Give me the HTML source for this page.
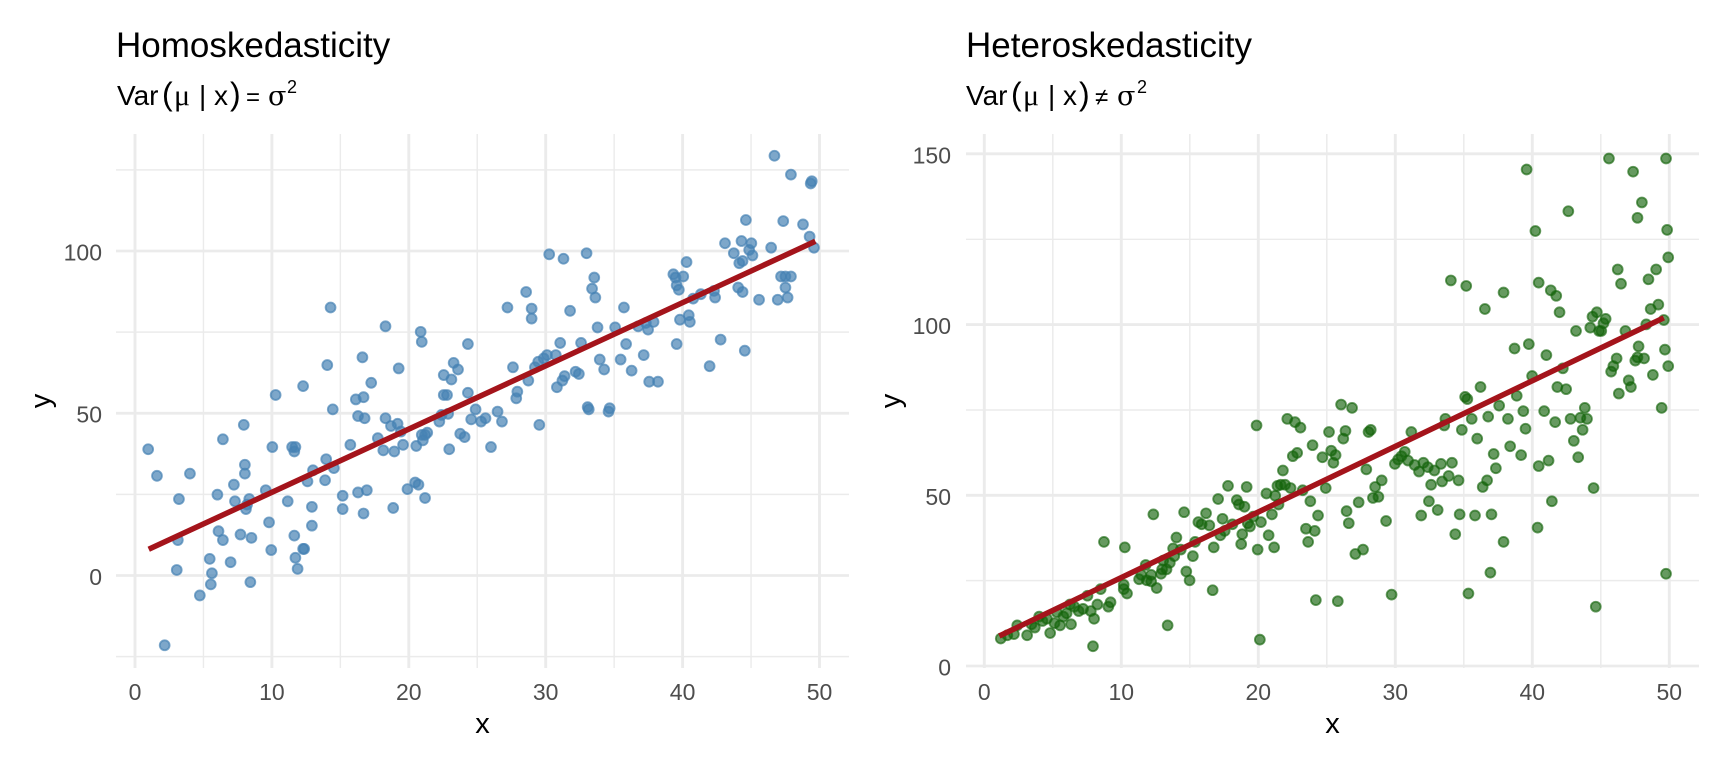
<!DOCTYPE html>
<html><head><meta charset="utf-8"><style>
html,body{margin:0;padding:0;background:#fff}
svg{display:block}
text{font-family:"Liberation Sans",Arial,sans-serif}
.tk{font-size:23px;fill:#4D4D4D}
.ttl{font-size:35px;fill:#000}
.at{font-size:29px;fill:#000}
.sub{font-size:28px;fill:#000}
.ser{font-family:"Liberation Serif","DejaVu Serif",serif}
.ser2{font-family:"DejaVu Serif","Liberation Serif",serif}
.gM{stroke:#EBEBEB;stroke-width:2.85}
.gm{stroke:#EBEBEB;stroke-width:1.45}
.L circle{fill:rgb(70,130,180);fill-opacity:.7;stroke:rgb(70,130,180);stroke-opacity:.7;stroke-width:1.65}
.R circle{fill:rgb(20,100,10);fill-opacity:.65;stroke:rgb(20,100,10);stroke-opacity:.65;stroke-width:1.65}
</style></head><body>
<svg width="1728" height="768" viewBox="0 0 1728 768" xmlns="http://www.w3.org/2000/svg">
<rect width="1728" height="768" fill="#fff"/>

<!-- LEFT PANEL GRID -->
<g>
<line class="gm" x1="116" x2="849" y1="656.6" y2="656.6"/>
<line class="gm" x1="116" x2="849" y1="494.4" y2="494.4"/>
<line class="gm" x1="116" x2="849" y1="332.1" y2="332.1"/>
<line class="gm" x1="116" x2="849" y1="169.9" y2="169.9"/>
<line class="gm" x1="203.45" x2="203.45" y1="134" y2="668"/>
<line class="gm" x1="340.35" x2="340.35" y1="134" y2="668"/>
<line class="gm" x1="477.25" x2="477.25" y1="134" y2="668"/>
<line class="gm" x1="614.15" x2="614.15" y1="134" y2="668"/>
<line class="gm" x1="751.05" x2="751.05" y1="134" y2="668"/>
<line class="gM" x1="116" x2="849" y1="575.5" y2="575.5"/>
<line class="gM" x1="116" x2="849" y1="413.25" y2="413.25"/>
<line class="gM" x1="116" x2="849" y1="251" y2="251"/>
<line class="gM" x1="135" x2="135" y1="134" y2="668"/>
<line class="gM" x1="271.9" x2="271.9" y1="134" y2="668"/>
<line class="gM" x1="408.8" x2="408.8" y1="134" y2="668"/>
<line class="gM" x1="545.7" x2="545.7" y1="134" y2="668"/>
<line class="gM" x1="682.6" x2="682.6" y1="134" y2="668"/>
<line class="gM" x1="819.5" x2="819.5" y1="134" y2="668"/>
</g>

<!-- RIGHT PANEL GRID -->
<g>
<line class="gm" x1="966" x2="1699" y1="580.6" y2="580.6"/>
<line class="gm" x1="966" x2="1699" y1="410" y2="410"/>
<line class="gm" x1="966" x2="1699" y1="239.3" y2="239.3"/>
<line class="gm" x1="1052.8" x2="1052.8" y1="134" y2="668"/>
<line class="gm" x1="1189.8" x2="1189.8" y1="134" y2="668"/>
<line class="gm" x1="1326.8" x2="1326.8" y1="134" y2="668"/>
<line class="gm" x1="1463.8" x2="1463.8" y1="134" y2="668"/>
<line class="gm" x1="1600.8" x2="1600.8" y1="134" y2="668"/>
<line class="gM" x1="966" x2="1699" y1="666" y2="666"/>
<line class="gM" x1="966" x2="1699" y1="495.3" y2="495.3"/>
<line class="gM" x1="966" x2="1699" y1="324.6" y2="324.6"/>
<line class="gM" x1="966" x2="1699" y1="153.8" y2="153.8"/>
<line class="gM" x1="984.3" x2="984.3" y1="134" y2="668"/>
<line class="gM" x1="1121.3" x2="1121.3" y1="134" y2="668"/>
<line class="gM" x1="1258.3" x2="1258.3" y1="134" y2="668"/>
<line class="gM" x1="1395.3" x2="1395.3" y1="134" y2="668"/>
<line class="gM" x1="1532.3" x2="1532.3" y1="134" y2="668"/>
<line class="gM" x1="1669.3" x2="1669.3" y1="134" y2="668"/>
</g>

<!-- LEFT POINTS -->
<g class="L" transform="translate(135 575.5) scale(1.0987 1.1075) translate(-122 -522)">
<circle r="4.5" cx="134" cy="408"/><circle r="4.5" cx="142" cy="432"/><circle r="4.5" cx="149" cy="585"/><circle r="4.5" cx="162" cy="453"/><circle r="4.5" cx="161" cy="490"/><circle r="4.5" cx="160" cy="517"/><circle r="4.5" cx="172" cy="430"/><circle r="4.5" cx="181" cy="540"/><circle r="4.5" cx="190" cy="507"/><circle r="4.5" cx="192" cy="520"/><circle r="4.5" cx="191" cy="530"/><circle r="4.5" cx="197" cy="449"/><circle r="4.5" cx="198" cy="482"/><circle r="4.5" cx="202" cy="490"/><circle r="4.5" cx="202" cy="399"/><circle r="4.5" cx="209" cy="510"/><circle r="4.5" cx="212" cy="440"/><circle r="4.5" cx="213" cy="455"/><circle r="4.5" cx="218" cy="485"/><circle r="4.5" cx="221" cy="386"/><circle r="4.5" cx="222" cy="422"/><circle r="4.5" cx="222" cy="430"/><circle r="4.5" cx="223" cy="462"/><circle r="4.5" cx="224" cy="458"/><circle r="4.5" cx="226" cy="453"/><circle r="4.5" cx="228" cy="488"/><circle r="4.5" cx="227" cy="528"/><circle r="4.5" cx="241" cy="445"/><circle r="4.5" cx="244" cy="474"/><circle r="4.5" cx="247" cy="406"/><circle r="4.5" cx="246" cy="499"/><circle r="4.5" cx="250" cy="359"/><circle r="4.5" cx="261" cy="455"/><circle r="4.5" cx="265" cy="406"/><circle r="4.5" cx="267" cy="410"/><circle r="4.5" cx="268" cy="406"/><circle r="4.5" cx="267" cy="486"/><circle r="4.5" cx="268" cy="506"/><circle r="4.5" cx="270" cy="516"/><circle r="4.5" cx="275" cy="498"/><circle r="4.5" cx="276" cy="498"/><circle r="4.5" cx="275" cy="351"/><circle r="4.5" cx="279" cy="437"/><circle r="4.5" cx="283" cy="460"/><circle r="4.5" cx="284" cy="427"/><circle r="4.5" cx="283" cy="477"/><circle r="4.5" cx="296" cy="417"/><circle r="4.5" cx="295" cy="436"/><circle r="4.5" cx="297" cy="332"/><circle r="4.5" cx="300" cy="280"/><circle r="4.5" cx="302" cy="372"/><circle r="4.5" cx="303" cy="425"/><circle r="4.5" cx="311" cy="450"/><circle r="4.5" cx="311" cy="462"/><circle r="4.5" cx="318" cy="404"/><circle r="4.5" cx="323" cy="363"/><circle r="4.5" cx="325" cy="378"/><circle r="4.5" cx="325" cy="447"/><circle r="4.5" cx="329" cy="325"/><circle r="4.5" cx="330" cy="361"/><circle r="4.5" cx="331" cy="380"/><circle r="4.5" cx="330" cy="466"/><circle r="4.5" cx="333" cy="445"/><circle r="4.5" cx="337" cy="348"/><circle r="4.5" cx="343" cy="398"/><circle r="4.5" cx="348" cy="409"/><circle r="4.5" cx="350" cy="297"/><circle r="4.5" cx="350" cy="380"/><circle r="4.5" cx="355" cy="387"/><circle r="4.5" cx="358" cy="410"/><circle r="4.5" cx="357" cy="461"/><circle r="4.5" cx="362" cy="335"/><circle r="4.5" cx="361" cy="385"/><circle r="4.5" cx="364" cy="392"/><circle r="4.5" cx="366" cy="404"/><circle r="4.5" cx="370" cy="444"/><circle r="4.5" cx="377" cy="438"/><circle r="4.5" cx="378" cy="405"/><circle r="4.5" cx="380" cy="440"/><circle r="4.5" cx="382" cy="302"/><circle r="4.5" cx="383" cy="311"/><circle r="4.5" cx="383" cy="395"/><circle r="4.5" cx="384" cy="400"/><circle r="4.5" cx="386" cy="395"/><circle r="4.5" cx="388" cy="393"/><circle r="4.5" cx="386" cy="452"/><circle r="4.5" cx="399" cy="383"/><circle r="4.5" cx="401" cy="377"/><circle r="4.5" cx="403" cy="359"/><circle r="4.5" cx="403" cy="341"/><circle r="4.5" cx="406" cy="359"/><circle r="4.5" cx="408" cy="408"/><circle r="4.5" cx="407" cy="376"/><circle r="4.5" cx="410" cy="345"/><circle r="4.5" cx="412" cy="330"/><circle r="4.5" cx="416" cy="336"/><circle r="4.5" cx="418" cy="394"/><circle r="4.5" cx="422" cy="397"/><circle r="4.5" cx="425" cy="313"/><circle r="4.5" cx="425" cy="357"/><circle r="4.5" cx="428" cy="381"/><circle r="4.5" cx="432" cy="372"/><circle r="4.5" cx="437" cy="383"/><circle r="4.5" cx="441" cy="380"/><circle r="4.5" cx="446" cy="406"/><circle r="4.5" cx="452" cy="374"/><circle r="4.5" cx="456" cy="383"/><circle r="4.5" cx="461" cy="280"/><circle r="4.5" cx="466" cy="334"/><circle r="4.5" cx="469" cy="362"/><circle r="4.5" cx="470" cy="356"/><circle r="4.5" cx="478" cy="266"/><circle r="4.5" cx="480" cy="346"/><circle r="4.5" cx="483" cy="281"/><circle r="4.5" cx="483" cy="290"/><circle r="4.5" cx="486" cy="334"/><circle r="4.5" cx="489" cy="329"/><circle r="4.5" cx="490" cy="386"/><circle r="4.5" cx="494" cy="326"/><circle r="4.5" cx="497" cy="323"/><circle r="4.5" cx="499" cy="232"/><circle r="4.5" cx="505" cy="323"/><circle r="4.5" cx="506" cy="352"/><circle r="4.5" cx="509" cy="312"/><circle r="4.5" cx="511" cy="346"/><circle r="4.5" cx="512" cy="236"/><circle r="4.5" cx="513" cy="342"/><circle r="4.5" cx="518" cy="283"/><circle r="4.5" cx="523" cy="338"/><circle r="4.5" cx="526" cy="340"/><circle r="4.5" cx="528" cy="312"/><circle r="4.5" cx="533" cy="231"/><circle r="4.5" cx="534" cy="370"/><circle r="4.5" cx="535" cy="372"/><circle r="4.5" cx="538" cy="263"/><circle r="4.5" cx="540" cy="253"/><circle r="4.5" cx="541" cy="271"/><circle r="4.5" cx="543" cy="298"/><circle r="4.5" cx="545" cy="327"/><circle r="4.5" cx="549" cy="336"/><circle r="4.5" cx="553" cy="374"/><circle r="4.5" cx="554" cy="371"/><circle r="4.5" cx="559" cy="298"/><circle r="4.5" cx="564" cy="327"/><circle r="4.5" cx="567" cy="280"/><circle r="4.5" cx="569" cy="313"/><circle r="4.5" cx="574" cy="337"/><circle r="4.5" cx="580" cy="297"/><circle r="4.5" cx="585" cy="323"/><circle r="4.5" cx="587" cy="294"/><circle r="4.5" cx="589" cy="300"/><circle r="4.5" cx="590" cy="347"/><circle r="4.5" cx="594" cy="293"/><circle r="4.5" cx="598" cy="347"/><circle r="4.5" cx="612" cy="250"/><circle r="4.5" cx="614" cy="253"/><circle r="4.5" cx="615" cy="313"/><circle r="4.5" cx="615" cy="260"/><circle r="4.5" cx="617" cy="264"/><circle r="4.5" cx="618" cy="291"/><circle r="4.5" cx="621" cy="252"/><circle r="4.5" cx="624" cy="239"/><circle r="4.5" cx="626" cy="287"/><circle r="4.5" cx="627" cy="293"/><circle r="4.5" cx="630" cy="272"/><circle r="4.5" cx="637" cy="268"/><circle r="4.5" cx="645" cy="333"/><circle r="4.5" cx="649" cy="265"/><circle r="4.5" cx="650" cy="271"/><circle r="4.5" cx="655" cy="309"/><circle r="4.5" cx="659" cy="222"/><circle r="4.5" cx="667" cy="231"/><circle r="4.5" cx="671" cy="262"/><circle r="4.5" cx="672" cy="240"/><circle r="4.5" cx="674" cy="220"/><circle r="4.5" cx="675" cy="266"/><circle r="4.5" cx="675" cy="238"/><circle r="4.5" cx="677" cy="319"/><circle r="4.5" cx="678" cy="201"/><circle r="4.5" cx="681" cy="228"/><circle r="4.5" cx="683" cy="222"/><circle r="4.5" cx="684" cy="233"/><circle r="4.5" cx="690" cy="273"/><circle r="4.5" cx="701" cy="226"/><circle r="4.5" cx="704" cy="143"/><circle r="4.5" cx="707" cy="273"/><circle r="4.5" cx="710" cy="252"/><circle r="4.5" cx="712" cy="202"/><circle r="4.5" cx="714" cy="252"/><circle r="4.5" cx="714" cy="262"/><circle r="4.5" cx="716" cy="271"/><circle r="4.5" cx="719" cy="160"/><circle r="4.5" cx="719" cy="252"/><circle r="4.5" cx="730" cy="205"/><circle r="4.5" cx="736" cy="216"/><circle r="4.5" cx="737" cy="168"/><circle r="4.5" cx="738" cy="166"/><circle r="4.5" cx="740" cy="226"/>
</g>

<!-- RIGHT POINTS -->
<g class="R" transform="translate(984.3 666) scale(1.0978 1.0985) translate(-891 -605)">
<circle r="4.5" cx="906" cy="580"/><circle r="4.5" cx="912" cy="577"/><circle r="4.5" cx="918" cy="576"/><circle r="4.5" cx="921" cy="568"/><circle r="4.5" cx="930" cy="577"/><circle r="4.5" cx="934" cy="567"/><circle r="4.5" cx="937" cy="570"/><circle r="4.5" cx="941" cy="560"/><circle r="4.5" cx="944" cy="564"/><circle r="4.5" cx="948" cy="562"/><circle r="4.5" cx="951" cy="575"/><circle r="4.5" cx="955" cy="566"/><circle r="4.5" cx="957" cy="556"/><circle r="4.5" cx="960" cy="568"/><circle r="4.5" cx="963" cy="560"/><circle r="4.5" cx="966" cy="557"/><circle r="4.5" cx="969" cy="549"/><circle r="4.5" cx="970" cy="567"/><circle r="4.5" cx="973" cy="551"/><circle r="4.5" cx="990" cy="587"/><circle r="4.5" cx="977" cy="555"/><circle r="4.5" cx="981" cy="553"/><circle r="4.5" cx="985" cy="541"/><circle r="4.5" cx="988" cy="555"/><circle r="4.5" cx="991" cy="562"/><circle r="4.5" cx="994" cy="549"/><circle r="4.5" cx="997" cy="535"/><circle r="4.5" cx="1000" cy="492"/>
<circle r="4.5" cx="1004" cy="551"/><circle r="4.5" cx="1006" cy="547"/><circle r="4.5" cx="1018" cy="535"/><circle r="4.5" cx="1018" cy="531"/><circle r="4.5" cx="1019" cy="497"/><circle r="4.5" cx="1021" cy="539"/><circle r="4.5" cx="1032" cy="526"/><circle r="4.5" cx="1034" cy="522"/><circle r="4.5" cx="1038" cy="513"/><circle r="4.5" cx="1039" cy="527"/><circle r="4.5" cx="1043" cy="528"/><circle r="4.5" cx="1043" cy="522"/><circle r="4.5" cx="1045" cy="467"/><circle r="4.5" cx="1048" cy="534"/><circle r="4.5" cx="1052" cy="521"/><circle r="4.5" cx="1053" cy="517"/><circle r="4.5" cx="1054" cy="509"/><circle r="4.5" cx="1057" cy="517"/><circle r="4.5" cx="1058" cy="568"/><circle r="4.5" cx="1060" cy="511"/><circle r="4.5" cx="1063" cy="498"/><circle r="4.5" cx="1064" cy="505"/><circle r="4.5" cx="1066" cy="488"/><circle r="4.5" cx="1070" cy="499"/><circle r="4.5" cx="1073" cy="465"/><circle r="4.5" cx="1075" cy="519"/><circle r="4.5" cx="1078" cy="527"/><circle r="4.5" cx="1081" cy="505"/><circle r="4.5" cx="1083" cy="492"/><circle r="4.5" cx="1086" cy="474"/><circle r="4.5" cx="1089" cy="476"/><circle r="4.5" cx="1093" cy="466"/><circle r="4.5" cx="1096" cy="477"/><circle r="4.5" cx="1099" cy="536"/><circle r="4.5" cx="1100" cy="497"/>
<circle r="4.5" cx="1104" cy="453"/><circle r="4.5" cx="1106" cy="486"/><circle r="4.5" cx="1108" cy="471"/><circle r="4.5" cx="1110" cy="482"/><circle r="4.5" cx="1113" cy="441"/><circle r="4.5" cx="1117" cy="476"/><circle r="4.5" cx="1121" cy="454"/><circle r="4.5" cx="1123" cy="458"/><circle r="4.5" cx="1125" cy="494"/><circle r="4.5" cx="1126" cy="485"/><circle r="4.5" cx="1128" cy="460"/><circle r="4.5" cx="1130" cy="442"/><circle r="4.5" cx="1131" cy="475"/><circle r="4.5" cx="1133" cy="478"/><circle r="4.5" cx="1136" cy="469"/><circle r="4.5" cx="1139" cy="386"/><circle r="4.5" cx="1140" cy="499"/><circle r="4.5" cx="1143" cy="474"/><circle r="4.5" cx="1142" cy="581"/><circle r="4.5" cx="1148" cy="448"/><circle r="4.5" cx="1150" cy="486"/><circle r="4.5" cx="1153" cy="467"/><circle r="4.5" cx="1155" cy="497"/><circle r="4.5" cx="1156" cy="450"/><circle r="4.5" cx="1158" cy="441"/><circle r="4.5" cx="1159" cy="458"/><circle r="4.5" cx="1161" cy="440"/><circle r="4.5" cx="1163" cy="427"/><circle r="4.5" cx="1165" cy="440"/><circle r="4.5" cx="1167" cy="380"/><circle r="4.5" cx="1170" cy="443"/><circle r="4.5" cx="1172" cy="414"/><circle r="4.5" cx="1174" cy="383"/><circle r="4.5" cx="1176" cy="411"/><circle r="4.5" cx="1179" cy="388"/><circle r="4.5" cx="1181" cy="445"/><circle r="4.5" cx="1184" cy="480"/><circle r="4.5" cx="1186" cy="492"/><circle r="4.5" cx="1188" cy="455"/><circle r="4.5" cx="1190" cy="404"/><circle r="4.5" cx="1192" cy="482"/><circle r="4.5" cx="1193" cy="545"/><circle r="4.5" cx="1195" cy="468"/><circle r="4.5" cx="1199" cy="415"/>
<circle r="4.5" cx="1202" cy="443"/><circle r="4.5" cx="1205" cy="392"/><circle r="4.5" cx="1207" cy="409"/><circle r="4.5" cx="1209" cy="420"/><circle r="4.5" cx="1211" cy="413"/><circle r="4.5" cx="1213" cy="546"/><circle r="4.5" cx="1216" cy="367"/><circle r="4.5" cx="1218" cy="398"/><circle r="4.5" cx="1220" cy="391"/><circle r="4.5" cx="1221" cy="464"/><circle r="4.5" cx="1223" cy="475"/><circle r="4.5" cx="1226" cy="370"/><circle r="4.5" cx="1229" cy="503"/><circle r="4.5" cx="1232" cy="456"/><circle r="4.5" cx="1236" cy="499"/><circle r="4.5" cx="1239" cy="426"/><circle r="4.5" cx="1241" cy="392"/><circle r="4.5" cx="1243" cy="390"/><circle r="4.5" cx="1245" cy="452"/><circle r="4.5" cx="1247" cy="442"/><circle r="4.5" cx="1250" cy="451"/><circle r="4.5" cx="1253" cy="436"/><circle r="4.5" cx="1257" cy="473"/><circle r="4.5" cx="1262" cy="540"/><circle r="4.5" cx="1265" cy="421"/><circle r="4.5" cx="1268" cy="417"/><circle r="4.5" cx="1271" cy="414"/><circle r="4.5" cx="1274" cy="410"/><circle r="4.5" cx="1277" cy="418"/><circle r="4.5" cx="1280" cy="392"/><circle r="4.5" cx="1283" cy="422"/><circle r="4.5" cx="1287" cy="428"/><circle r="4.5" cx="1289" cy="468"/><circle r="4.5" cx="1291" cy="420"/><circle r="4.5" cx="1295" cy="424"/><circle r="4.5" cx="1296" cy="455"/><circle r="4.5" cx="1298" cy="440"/>
<circle r="4.5" cx="1301" cy="427"/><circle r="4.5" cx="1304" cy="463"/><circle r="4.5" cx="1307" cy="421"/><circle r="4.5" cx="1308" cy="437"/><circle r="4.5" cx="1310" cy="386"/><circle r="4.5" cx="1311" cy="380"/><circle r="4.5" cx="1314" cy="432"/><circle r="4.5" cx="1316" cy="254"/><circle r="4.5" cx="1317" cy="420"/><circle r="4.5" cx="1320" cy="485"/><circle r="4.5" cx="1323" cy="436"/><circle r="4.5" cx="1324" cy="467"/><circle r="4.5" cx="1326" cy="390"/><circle r="4.5" cx="1329" cy="360"/><circle r="4.5" cx="1330" cy="259"/><circle r="4.5" cx="1331" cy="362"/><circle r="4.5" cx="1332" cy="539"/><circle r="4.5" cx="1335" cy="380"/><circle r="4.5" cx="1338" cy="468"/><circle r="4.5" cx="1340" cy="398"/><circle r="4.5" cx="1343" cy="351"/><circle r="4.5" cx="1345" cy="442"/><circle r="4.5" cx="1347" cy="280"/><circle r="4.5" cx="1349" cy="436"/><circle r="4.5" cx="1350" cy="378"/><circle r="4.5" cx="1352" cy="520"/><circle r="4.5" cx="1353" cy="467"/><circle r="4.5" cx="1355" cy="412"/><circle r="4.5" cx="1357" cy="425"/><circle r="4.5" cx="1360" cy="368"/><circle r="4.5" cx="1364" cy="265"/><circle r="4.5" cx="1364" cy="492"/><circle r="4.5" cx="1368" cy="380"/><circle r="4.5" cx="1370" cy="405"/><circle r="4.5" cx="1374" cy="316"/><circle r="4.5" cx="1376" cy="359"/><circle r="4.5" cx="1380" cy="413"/><circle r="4.5" cx="1382" cy="373"/><circle r="4.5" cx="1384" cy="389"/><circle r="4.5" cx="1385" cy="153"/><circle r="4.5" cx="1387" cy="312"/><circle r="4.5" cx="1390" cy="341"/><circle r="4.5" cx="1393" cy="209"/><circle r="4.5" cx="1395" cy="479"/><circle r="4.5" cx="1396" cy="256"/><circle r="4.5" cx="1396" cy="423"/>
<circle r="4.5" cx="1401" cy="373"/><circle r="4.5" cx="1403" cy="322"/><circle r="4.5" cx="1405" cy="418"/><circle r="4.5" cx="1407" cy="263"/><circle r="4.5" cx="1408" cy="455"/><circle r="4.5" cx="1411" cy="383"/><circle r="4.5" cx="1412" cy="268"/><circle r="4.5" cx="1413" cy="351"/><circle r="4.5" cx="1415" cy="283"/><circle r="4.5" cx="1418" cy="334"/><circle r="4.5" cx="1421" cy="353"/><circle r="4.5" cx="1423" cy="191"/><circle r="4.5" cx="1425" cy="380"/><circle r="4.5" cx="1428" cy="400"/><circle r="4.5" cx="1430" cy="300"/><circle r="4.5" cx="1432" cy="415"/><circle r="4.5" cx="1434" cy="379"/><circle r="4.5" cx="1436" cy="390"/><circle r="4.5" cx="1438" cy="370"/><circle r="4.5" cx="1440" cy="380"/><circle r="4.5" cx="1443" cy="297"/><circle r="4.5" cx="1445" cy="287"/><circle r="4.5" cx="1446" cy="443"/><circle r="4.5" cx="1448" cy="551"/><circle r="4.5" cx="1449" cy="283"/><circle r="4.5" cx="1451" cy="300"/><circle r="4.5" cx="1453" cy="300"/><circle r="4.5" cx="1455" cy="293"/><circle r="4.5" cx="1457" cy="289"/><circle r="4.5" cx="1460" cy="143"/><circle r="4.5" cx="1462" cy="337"/><circle r="4.5" cx="1464" cy="332"/><circle r="4.5" cx="1467" cy="325"/><circle r="4.5" cx="1468" cy="244"/><circle r="4.5" cx="1469" cy="357"/><circle r="4.5" cx="1471" cy="257"/><circle r="4.5" cx="1475" cy="300"/><circle r="4.5" cx="1478" cy="345"/><circle r="4.5" cx="1480" cy="351"/><circle r="4.5" cx="1482" cy="155"/><circle r="4.5" cx="1484" cy="327"/><circle r="4.5" cx="1486" cy="324"/><circle r="4.5" cx="1486" cy="197"/><circle r="4.5" cx="1487" cy="314"/><circle r="4.5" cx="1490" cy="183"/><circle r="4.5" cx="1492" cy="325"/><circle r="4.5" cx="1494" cy="294"/><circle r="4.5" cx="1496" cy="253"/><circle r="4.5" cx="1498" cy="280"/><circle r="4.5" cx="1500" cy="340"/><circle r="4.5" cx="1503" cy="244"/><circle r="4.5" cx="1505" cy="276"/><circle r="4.5" cx="1508" cy="370"/><circle r="4.5" cx="1510" cy="290"/><circle r="4.5" cx="1511" cy="317"/><circle r="4.5" cx="1512" cy="143"/><circle r="4.5" cx="1513" cy="208"/><circle r="4.5" cx="1514" cy="233"/><circle r="4.5" cx="1514" cy="332"/><circle r="4.5" cx="1512" cy="521"/>
</g>

<!-- REGRESSION LINES -->
<line x1="148.7" y1="549.2" x2="815.4" y2="241.3" stroke="#A4141B" stroke-width="5.5"/>
<line x1="999.3" y1="636" x2="1663.8" y2="317.8" stroke="#A4141B" stroke-width="5.5"/>

<!-- TICK LABELS LEFT -->
<g class="tk" text-anchor="end">
<text x="102" y="260.5">100</text>
<text x="102" y="422.7">50</text>
<text x="102" y="585">0</text>
</g>
<g class="tk" text-anchor="middle">
<text x="135" y="700">0</text>
<text x="271.9" y="700">10</text>
<text x="408.8" y="700">20</text>
<text x="545.7" y="700">30</text>
<text x="682.6" y="700">40</text>
<text x="819.5" y="700">50</text>
</g>

<!-- TICK LABELS RIGHT -->
<g class="tk" text-anchor="end">
<text x="951" y="675.5">0</text>
<text x="951" y="504.8">50</text>
<text x="951" y="334.1">100</text>
<text x="951" y="163.3">150</text>
</g>
<g class="tk" text-anchor="middle">
<text x="984.3" y="700">0</text>
<text x="1121.3" y="700">10</text>
<text x="1258.3" y="700">20</text>
<text x="1395.3" y="700">30</text>
<text x="1532.3" y="700">40</text>
<text x="1669.3" y="700">50</text>
</g>

<!-- AXIS TITLES -->
<text class="at" x="482.5" y="733" text-anchor="middle">x</text>
<text class="at" x="1332.5" y="733" text-anchor="middle">x</text>
<text class="at" transform="translate(50 401) rotate(-90)" text-anchor="middle">y</text>
<text class="at" transform="translate(900 401) rotate(-90)" text-anchor="middle">y</text>

<!-- TITLES -->
<text class="ttl" x="116" y="57">Homoskedasticity</text>
<text class="ttl" x="966" y="57">Heteroskedasticity</text>

<!-- SUBTITLES -->
<text class="sub" y="105"><tspan x="117">Var</tspan><tspan x="162" style="font-size:32px">(</tspan><tspan x="174" class="ser" style="font-size:30px">μ</tspan><tspan x="199">|</tspan><tspan x="214">x</tspan><tspan x="230" style="font-size:32px">)</tspan><tspan x="246" style="font-size:24px">=</tspan><tspan x="268" class="ser2" style="font-size:27px">σ</tspan><tspan x="287" y="93" style="font-size:18px">2</tspan></text>
<text class="sub" y="105"><tspan x="966">Var</tspan><tspan x="1011" style="font-size:32px">(</tspan><tspan x="1023" class="ser" style="font-size:30px">μ</tspan><tspan x="1048">|</tspan><tspan x="1063">x</tspan><tspan x="1079" style="font-size:32px">)</tspan><tspan x="1095" style="font-size:24px">≠</tspan><tspan x="1117" class="ser2" style="font-size:27px">σ</tspan><tspan x="1137" y="93" style="font-size:18px">2</tspan></text>
</svg>
</body></html>
